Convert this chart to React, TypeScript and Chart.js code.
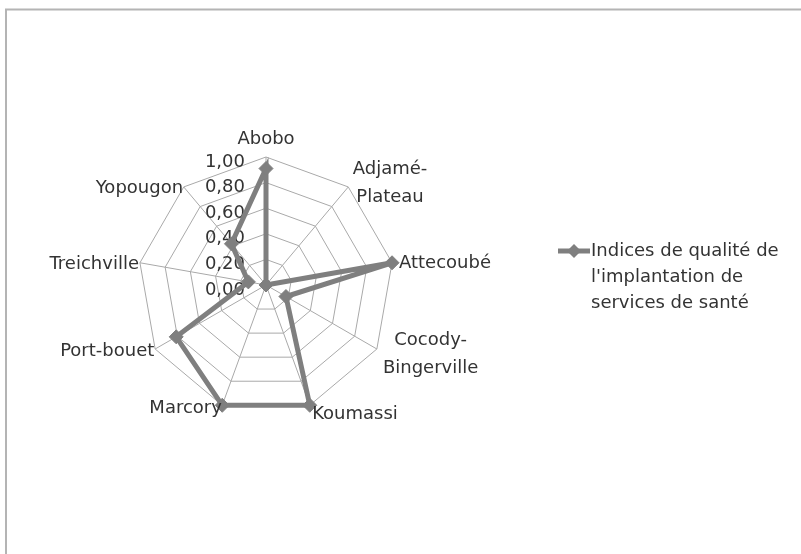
import { useEffect, useRef } from "react";
import { Chart, registerables } from "chart.js";

Chart.register(...registerables);

// Districts of Abidjan (multi-line names are split where they wrap)
const districts: string[][] = [
  ["Abobo"],
  ["Adjamé-", "Plateau"],
  ["Attecoubé"],
  ["Cocody-", "Bingerville"],
  ["Koumassi"],
  ["Marcory"],
  ["Port-bouet"],
  ["Treichville"],
  ["Yopougon"],
];

// Quality index of health service placement, per district
const indices = [0.91, 0, 1, 0.18, 1, 1, 0.81, 0.14, 0.42];

// Radial axis ticks
const tickValues = [0, 0.2, 0.4, 0.6, 0.8, 1];

// Series name as it wraps in the legend
const seriesName = ["Indices de qualité de", "l'implantation de", "services de santé"];

const FONT = '18px "DejaVu Sans"';
const TEXT = "#333333";
const GRID = "#a9a9a9";
const SERIES = "#7f7f7f";

const formatTick = (v: number) => v.toFixed(2).replace(".", ",");

// Radial tick labels, right-aligned just left of the vertical axis
const tickLabelPlugin = {
  id: "tickLabelsLeft",
  beforeDatasetsDraw(chart: any) {
    const scale = chart.scales.r;
    const ctx = chart.ctx as CanvasRenderingContext2D;
    ctx.save();
    ctx.font = FONT;
    ctx.fillStyle = TEXT;
    ctx.textAlign = "right";
    ctx.textBaseline = "middle";
    tickValues.forEach((v) => {
      const y = scale.yCenter - scale.getDistanceFromCenterForValue(v);
      ctx.fillText(formatTick(v), scale.xCenter - 21, y + 5);
    });
    ctx.restore();
  },
};

// Category labels placed beside each spoke, lines centred within their block
const pointLabelPlugin = {
  id: "pointLabelsSide",
  afterDatasetsDraw(chart: any) {
    const scale = chart.scales.r;
    const ctx = chart.ctx as CanvasRenderingContext2D;
    const outer = scale.getDistanceFromCenterForValue(scale.max);
    const lineH = 28;
    ctx.save();
    ctx.font = FONT;
    ctx.fillStyle = TEXT;
    ctx.textAlign = "center";
    ctx.textBaseline = "middle";
    (chart.data.labels as string[][]).forEach((lines, i) => {
      const a = scale.getIndexAngle(i);
      const s = Math.sin(a);
      const c = Math.cos(a);
      const vertical = Math.abs(s) < 0.01;
      const pad = vertical ? 8 : s > 0 ? 7 : 1;
      const p = scale.getPointPosition(i, outer + pad);
      const blockW = Math.max(...lines.map((l) => ctx.measureText(l).width));
      const blockH = lines.length * lineH;
      let cx = p.x;
      let cy = p.y + 2;
      if (vertical) {
        cy = c > 0 ? p.y - blockH / 2 + 4 : p.y + blockH / 2 - 3;
      } else {
        cx = s > 0 ? p.x + blockW / 2 : p.x - blockW / 2;
      }
      lines.forEach((l, k) => {
        ctx.fillText(l, cx, cy - blockH / 2 + lineH * (k + 0.5));
      });
    });
    ctx.restore();
  },
};

// Frame edge and the series legend on the right
const frameLegendPlugin = {
  id: "frameLegend",
  afterDraw(chart: any) {
    const ctx = chart.ctx as CanvasRenderingContext2D;
    ctx.save();
    ctx.strokeStyle = "#b4b4b4";
    ctx.lineWidth = 2;
    ctx.beginPath();
    ctx.moveTo(6, 600);
    ctx.lineTo(6, 9.5);
    ctx.lineTo(850, 9.5);
    ctx.stroke();

    const ds = chart.data.datasets[0];
    const lx = 558;
    const ly = 251;
    ctx.strokeStyle = ds.borderColor;
    ctx.lineWidth = ds.borderWidth;
    ctx.beginPath();
    ctx.moveTo(lx, ly);
    ctx.lineTo(lx + 32, ly);
    ctx.stroke();
    ctx.fillStyle = ds.pointBackgroundColor;
    const r = ds.pointRadius;
    ctx.beginPath();
    ctx.moveTo(lx + 16, ly - r);
    ctx.lineTo(lx + 16 + r, ly);
    ctx.lineTo(lx + 16, ly + r);
    ctx.lineTo(lx + 16 - r, ly);
    ctx.closePath();
    ctx.fill();

    ctx.font = FONT;
    ctx.fillStyle = TEXT;
    ctx.textAlign = "left";
    ctx.textBaseline = "middle";
    seriesName.forEach((t, k) => ctx.fillText(t, lx + 33, ly + k * 26));
    ctx.restore();
  },
};

export default function App() {
  const ref = useRef<HTMLCanvasElement | null>(null);

  useEffect(() => {
    document.body.style.margin = "0";
    document.body.style.overflow = "hidden";
    const canvas = ref.current;
    if (!canvas) return;
    const chart = new Chart(canvas, {
      type: "radar",
      data: {
        labels: districts,
        datasets: [
          {
            label: seriesName.join(" "),
            data: indices,
            borderColor: SERIES,
            borderWidth: 5,
            backgroundColor: "transparent",
            fill: false,
            pointStyle: "rectRot",
            pointRadius: 7,
            pointBackgroundColor: SERIES,
            pointBorderColor: SERIES,
            pointBorderWidth: 1,
          },
        ],
      },
      options: {
        responsive: false,
        animation: false,
        devicePixelRatio: 1,
        layout: { padding: { left: 138, right: 407, top: 157, bottom: 141 } },
        plugins: { legend: { display: false }, tooltip: { enabled: false } },
        elements: { line: { tension: 0 } },
        scales: {
          r: {
            min: 0,
            max: 1,
            ticks: { stepSize: 0.2, display: false },
            pointLabels: { display: false },
            grid: { color: GRID, lineWidth: 1 },
            angleLines: { color: GRID, lineWidth: 1 },
          },
        },
      },
      plugins: [tickLabelPlugin, pointLabelPlugin, frameLegendPlugin],
    } as any);
    return () => chart.destroy();
  }, []);

  return (
    <div style={{ width: 801, height: 554, background: "#ffffff" }}>
      <canvas ref={ref} width={801} height={554} style={{ display: "block" }} />
    </div>
  );
}
